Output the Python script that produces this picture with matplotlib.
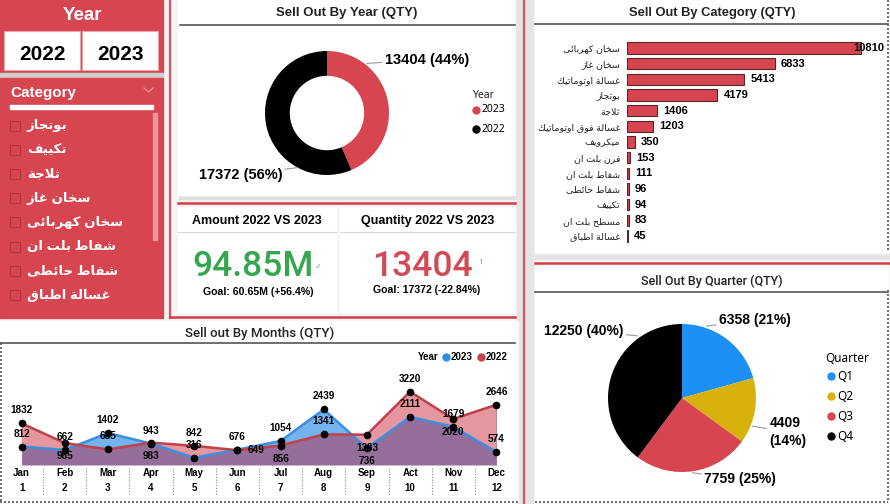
import matplotlib
matplotlib.use('Agg')
import matplotlib.pyplot as plt
from matplotlib import font_manager
from matplotlib.patches import Rectangle
import numpy as np

plt.rcParams['font.family'] = ['Liberation Sans', 'DejaVu Sans']

W, H = 890, 504
RED = '#d64550'

# ---- data ----
years = ['2023', '2022']
year_qty = [13404, 17372]

categories = ['سخان كهربائى', 'سخان غاز', 'غسالة اوتوماتيك', 'بوتجاز', 'ثلاجة',
              'غسالة فوق اوتوماتيك', 'ميكرويف', 'فرن بلت ان', 'شفاط بلت ان',
              'شفاط حائطى', 'تكييف', 'مسطح بلت ان', 'غسالة اطباق']
category_qty = [10810, 6833, 5413, 4179, 1406, 1203, 350, 153, 111, 96, 94, 83, 45]

slicer_items = ['بوتجاز', 'تكييف', 'ثلاجة', 'سخان غاز', 'سخان كهربائى',
                'شفاط بلت ان', 'شفاط حائطى', 'غسالة اطباق']

months = ['Jan', 'Feb', 'Mar', 'Apr', 'May', 'Jun', 'Jul', 'Aug', 'Sep', 'Act', 'Nov', 'Dec']
qty_2022 = [1832, 965, 685, 983, 842, 649, 856, 1341, 1333, 3220, 2020, 2646]
qty_2023 = [812, 662, 1402, 943, 316, 676, 1054, 2439, 736, 2111, 1679, 574]

quarters = ['Q1', 'Q2', 'Q3', 'Q4']
quarter_qty = [6358, 4409, 7759, 12250]

amount_2023 = 94.85
amount_2022 = 60.65


# ---- arabic shaping (matplotlib does no joining / rtl) ----
DUAL = {'ب': 0xFE8F, 'ت': 0xFE95, 'ث': 0xFE99, 'ج': 0xFE9D, 'ح': 0xFEA1, 'خ': 0xFEA5,
        'س': 0xFEB1, 'ش': 0xFEB5, 'ص': 0xFEB9, 'ض': 0xFEBD, 'ط': 0xFEC1, 'ظ': 0xFEC5,
        'ع': 0xFEC9, 'غ': 0xFECD, 'ف': 0xFED1, 'ق': 0xFED5, 'ك': 0xFED9, 'ل': 0xFEDD,
        'م': 0xFEE1, 'ن': 0xFEE5, 'ه': 0xFEE9, 'ي': 0xFEF1, 'ئ': 0xFE89}
RIGHT = {'ا': 0xFE8D, 'د': 0xFEA9, 'ذ': 0xFEAB, 'ر': 0xFEAD, 'ز': 0xFEAF, 'و': 0xFEED,
         'ة': 0xFE93, 'ى': 0xFEEF, 'أ': 0xFE83, 'إ': 0xFE87, 'آ': 0xFE81}


def ar(s):
    out = []
    i = 0
    while i < len(s):
        c = s[i]
        prev = s[i - 1] if i > 0 else ''
        nxt = s[i + 1] if i + 1 < len(s) else ''
        jp = prev in DUAL
        if c == 'ل' and nxt == 'ا':
            out.append(chr(0xFEFC if jp else 0xFEFB))
            i += 2
            continue
        if c in DUAL:
            jn = nxt in DUAL or nxt in RIGHT
            out.append(chr(DUAL[c] + (3 if jp and jn else 1 if jp else 2 if jn else 0)))
        elif c in RIGHT:
            out.append(chr(RIGHT[c] + (1 if jp else 0)))
        else:
            out.append(c)
        i += 1
    return ''.join(reversed(out))


def px_axes(x, y, w, h):
    return fig.add_axes([x / W, 1 - (y + h) / H, w / W, h / H])


fig = plt.figure(figsize=(W / 100, H / 100), dpi=100, facecolor='#f5f5f5')
bg = fig.add_axes([0, 0, 1, 1])
bg.set_xlim(0, W)
bg.set_ylim(H, 0)
bg.axis('off')


def rect(x, y, w, h, **kw):
    bg.add_patch(Rectangle((x, y), w, h, **kw))


def hline(y, x0, x1, **kw):
    bg.plot([x0, x1], [y, y], **kw)


def vline(x, y0, y1, **kw):
    bg.plot([x, x], [y0, y1], **kw)


# ---- panels / frames ----
rect(179, 0, 341, 199, color='#e0e0e0')
rect(178, 0, 337, 195, color='white')
rect(178, 207, 158, 106, color='white')
rect(340, 207, 175, 106, color='white')
rect(517, 0, 16, 504, color='#e4e4e4')
rect(535, 0, 353, 252, color='white')
rect(535, 255, 355, 4, color='#e4e4e4')
rect(535, 267, 353, 235, color='white')
rect(0, 321, 518, 181, color='white')

vline(170, 0, 318, color='#d9535c', lw=1.6)
vline(524, 0, 504, color='#d9535c', lw=1.6)
hline(203, 178, 515, color='#d63c45', lw=1.8)
hline(317, 170, 515, color='#d63c45', lw=1.8)
hline(263, 535, 890, color='#d63c45', lw=1.8)

dot_kw = dict(color='#555555', lw=1.2, ls=(0, (1.2, 1.2)))
vline(1, 343, 502, **dot_kw)
hline(502, 0, 518, **dot_kw)
vline(888, 0, 252, **dot_kw)
vline(888, 290, 502, **dot_kw)
hline(502, 535, 888, **dot_kw)

# ---- year slicer ----
rect(0, 0, 163, 73, color=RED)
rect(0, 73, 163, 5, color='#cfcfcf')
bg.text(82, 15, 'Year', color='white', fontsize=13.5, fontweight='bold', ha='center', va='center')
for x0, y in zip([4, 82], ['2022', '2023']):
    rect(x0, 31, 76, 39, facecolor='white', edgecolor='#eaa5aa', lw=0.8)
    bg.text(x0 + 38, 54, y, fontsize=15, fontweight='bold', ha='center', va='center')

# ---- category slicer ----
rect(0, 78, 163, 240, color=RED)
bg.text(10, 93, 'Category', color='white', fontsize=11, fontweight='bold', ha='left', va='center')
bg.plot([144, 148.5, 153], [88, 92, 88], color='#ee9aa0', lw=0.8)
rect(10, 105, 143, 4, color='white')
rect(153, 113, 4, 127, color='#e8959b')
for k, item in enumerate(slicer_items):
    yy = 126 + k * 24.2
    rect(10, yy - 5.5, 10, 10, facecolor='none', edgecolor='#b8333d', lw=0.8)
    bg.text(27, yy, ar(item), color='white', fontsize=9.5, fontweight='bold', ha='left', va='center')

# ---- sell out by year (donut) ----
bg.text(347, 13, 'Sell Out By Year (QTY)', fontsize=9.5, fontweight='bold', ha='center', va='center', color='#222')
hline(25, 180, 515, color='#555555', lw=1.2)
ax = px_axes(265, 51, 124, 124)
tot = sum(year_qty)
ax.pie(year_qty, colors=[RED, 'black'], startangle=90, counterclock=False,
       wedgeprops=dict(width=0.4, linewidth=0))
ax.set_xlim(-1, 1)
ax.set_ylim(-1, 1)
lbl = ['%d (%d%%)' % (v, round(100 * v / tot)) for v in year_qty]
ax.annotate(lbl[0], xy=(0.64, 0.8), xytext=(0.93, 0.86), ha='left', va='center',
            fontsize=10.5, fontweight='bold', annotation_clip=False,
            arrowprops=dict(arrowstyle='-', color='#999999', lw=0.8, shrinkA=0, shrinkB=0))
ax.annotate(lbl[1], xy=(-0.47, -0.88), xytext=(-0.72, -1.0), ha='right', va='center',
            fontsize=10.5, fontweight='bold', annotation_clip=False,
            arrowprops=dict(arrowstyle='-', color='#999999', lw=0.8, shrinkA=0, shrinkB=0))
bg.text(473, 95, 'Year', fontsize=7.5, fontweight='bold', ha='left', va='center', family='Noto Sans', color='#222')
for k, (y, c) in enumerate(zip(years, [RED, 'black'])):
    bg.plot(476, 110 + k * 19, 'o', color=c, ms=5)
    bg.text(482, 110 + k * 19, y, fontsize=7.5, ha='left', va='center', family='Noto Sans')

# ---- kpi cards ----
amt_chg = 100 * (amount_2023 - amount_2022) / amount_2022
qty_chg = 100 * (year_qty[0] - year_qty[1]) / year_qty[1]
for x0, w, title in [(178, 158, 'Amount 2022 VS 2023'), (340, 175, 'Quantity 2022 VS 2023')]:
    bg.text(x0 + w / 2, 221, title, fontsize=9, fontweight='bold', ha='center', va='center')
    hline(232, x0, x0 + w, color='#d8d8d8', lw=0.8)
installed = {f.name for f in font_manager.fontManager.ttflist}
if 'Liberation Sans Narrow' in installed:
    big = dict(fontsize=30, ha='center', va='center', family='Liberation Sans Narrow')
else:
    big = dict(fontsize=25.5, ha='center', va='center', family='Roboto', fontweight='medium')
bg.text(253, 266, '%.2fM' % amount_2023, color='#37a650', **big)
bg.text(318, 266, '✓', color='#999999', fontsize=6, ha='center', va='center', family='DejaVu Sans')
bg.text(422, 266, '%d' % year_qty[0], color='#d24a57', **big)
bg.text(480, 262, '!', color='#d24a57', fontsize=6, ha='center', va='center')
bg.text(258, 292, 'Goal: %.2fM (%+.1f%%)' % (amount_2022, amt_chg), fontsize=7.6, fontweight='bold', ha='center', va='center')
bg.text(427, 290, 'Goal: %d (%+.2f%%)' % (year_qty[1], qty_chg), fontsize=7.6, fontweight='bold', ha='center', va='center')

# ---- sell out by category (bars) ----
bg.text(712, 13, 'Sell Out By Category (QTY)', fontsize=9.3, fontweight='bold', ha='center', va='center', color='#222')
hline(24, 535, 888, color='#555555', lw=1.2)
ax = px_axes(627, 40, 261, 204)
ax.set_facecolor('none')
pos = np.arange(len(categories))
ax.barh(pos, category_qty, height=0.72, color=RED, edgecolor='#5a2528', linewidth=0.8)
ax.set_ylim(len(categories) - 0.49, -0.51)
ax.set_xlim(0, max(category_qty) * 1.115)
ax.set_yticks(pos, [ar(c) for c in categories], fontsize=6.8, color='#222')
ax.tick_params(axis='y', length=0, pad=5)
ax.set_xticks([])
for s in ax.spines.values():
    s.set_visible(False)
for i, v in enumerate(category_qty):
    off = -8 if v == max(category_qty) else 6
    ax.annotate(str(v), (v, i), xytext=(off, 0), textcoords='offset pixels',
                ha='left', va='center', fontsize=8, fontweight='bold', annotation_clip=False)

# ---- sell out by quarter (pie) ----
bg.text(712, 281, 'Sell Out By Quarter (QTY)', fontsize=9, ha='center', va='center',
        family='Roboto', fontweight='medium', color='#222')
hline(292, 535, 888, color='#555555', lw=1.2)
ax = px_axes(608, 324, 148, 148)
qcolors = ['#1e8ff5', '#d8b10c', RED, 'black']
ax.pie(quarter_qty, colors=qcolors, startangle=90, counterclock=False, wedgeprops=dict(linewidth=0))
ax.set_xlim(-1, 1)
ax.set_ylim(-1, 1)
qt = sum(quarter_qty)
qlbl = ['%d (%d%%)' % (v, round(100 * v / qt)) for v in quarter_qty]
qlbl[1] = qlbl[1].replace(' ', '\n')
lead = dict(arrowstyle='-', color='#999999', lw=0.8, shrinkA=0, shrinkB=0)
for t, xy, xyt, ha in zip(qlbl,
                          [(0.33, 0.97), (0.95, -0.38), (0.14, -1.01), (-0.6, 0.84)],
                          [(0.5, 1.06), (1.18, -0.46), (0.3, -1.1), (-0.79, 0.91)],
                          ['left', 'left', 'left', 'right']):
    ax.annotate(t, xy=xy, xytext=xyt, ha=ha, va='center', fontsize=10, fontweight='bold',
                annotation_clip=False, arrowprops=lead, linespacing=1.3)
bg.text(825, 358, 'Quarter', fontsize=8.5, ha='left', va='center', family='Noto Sans')
for k, (q, c) in enumerate(zip(quarters, qcolors)):
    bg.plot(831, 376 + k * 20, 'o', color=c, ms=5)
    bg.text(837, 376 + k * 20, q, fontsize=8.5, ha='left', va='center', family='Noto Sans')

# ---- sell out by months (area) ----
bg.text(260, 333, 'Sell out By Months (QTY)', fontsize=9.5, ha='center', va='center',
        family='Roboto', fontweight='medium', color='#222')
hline(343, 0, 515, color='#555555', lw=1.2)
bg.text(418, 357, 'Year', fontsize=7, fontweight='bold', ha='left', va='center')
for xx, y, c in [(446, '2023', '#2f8ee5'), (481, '2022', '#c9424d')]:
    bg.plot(xx, 357, 'o', color=c, ms=5)
    bg.text(xx + 5, 357, y, fontsize=7, fontweight='bold', ha='left', va='center')

ax = px_axes(0, 355, 518, 110)
ax.set_facecolor('none')
x = np.arange(1, 13)
y22 = np.array(qty_2022)
y23 = np.array(qty_2023)
# overlap (under both) purple, red-only pink, blue-only light blue
ax.fill_between(x, 0, y22, color='#966e9b', lw=0)
ax.fill_between(x, y23, y22, where=y22 >= y23, interpolate=True, color='#e6969f', lw=0)
ax.fill_between(x, y22, y23, where=y23 >= y22, interpolate=True, color='#73b4f0', lw=0)
ax.plot(x, y23, color='#3a8fe0', lw=1.8)
ax.plot(x, y22, color='#c0404c', lw=1.8)
ax.plot(x, y22, 'o', color='black', ms=4.5)
ax.plot(x, y23, 'o', color='black', ms=4.5)
ax.set_xlim(0.5, 12.5)
ax.set_ylim(0, max(qty_2022 + qty_2023) * 1.5)
ax.set_yticks([])
ax.set_xticks(x, ['%s\n%d' % (m, i) for i, m in zip(x, months)], fontsize=7,
              fontweight='bold', linespacing=1.6)
ax.tick_params(axis='x', length=0, pad=2)
for s in ax.spines.values():
    s.set_visible(False)
for k in range(1, 12):
    ax.plot([k + 0.5, k + 0.5], [-0.03, -0.27], transform=ax.get_xaxis_transform(),
            clip_on=False, color='#888888', lw=0.8, ls=(0, (1, 1.5)))

off22 = [(0, 13), (0, -13), (0, 13), (0, -13), (0, 13), (10, 0),
         (0, -13), (0, 13), (0, -13), (0, 13), (0, -13), (0, 13)]
off23 = [(0, 13)] * 8 + [(0, -13)] + [(0, 13)] * 3
for ys, offs in [(qty_2022, off22), (qty_2023, off23)]:
    for xi, v, (dx, dy) in zip(x, ys, offs):
        ax.annotate(str(v), (xi, v), xytext=(dx, dy), textcoords='offset pixels',
                    ha='left' if dx else 'center', va='center', fontsize=7.2,
                    fontweight='bold', annotation_clip=False)

fig.savefig('out.png', dpi=100, facecolor=fig.get_facecolor())
